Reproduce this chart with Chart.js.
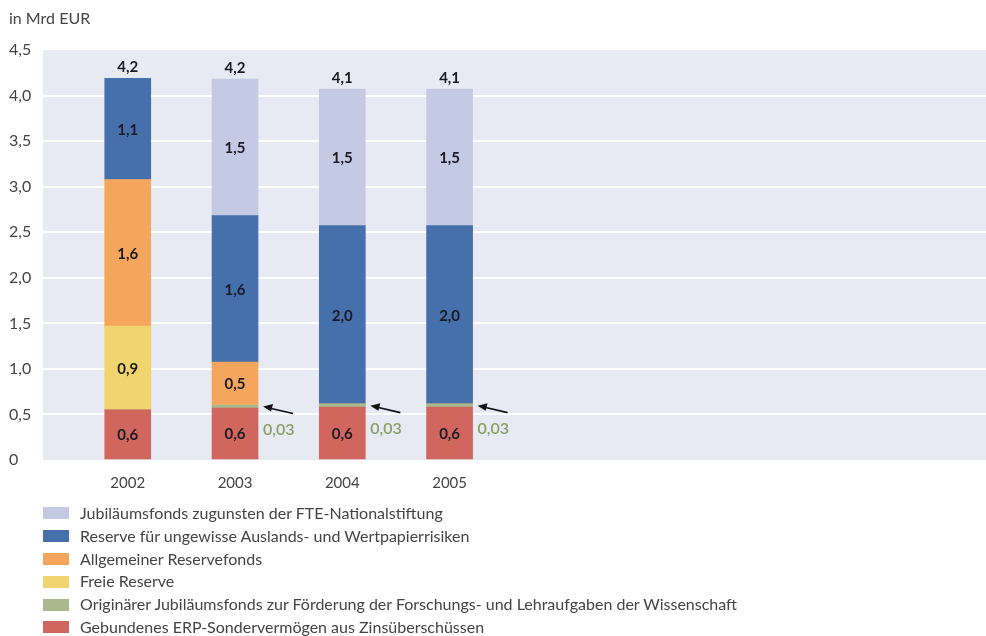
<!DOCTYPE html>
<html>
<head>
  <meta charset="UTF-8">
  <title>Rücklagen in Mrd EUR</title>
  <script src="https://cdn.jsdelivr.net/npm/chart.js"></script>
  <style>
    body { margin: 0; background: #fff; font-family: Lato, "Open Sans", sans-serif; }
    #wrap { position: relative; width: 986px; height: 636px; }
    #chart { position: absolute; left: 0; top: 0; }
    #legend { list-style: none; margin: 0; padding: 0; position: absolute; left: 43px; top: 502px; }
    #legend li { height: 22.8px; line-height: 22.8px; font-size: 16px; color: #444; display: flex; align-items: center; white-space: nowrap; }
    #legend span.box { display: inline-block; width: 26px; height: 12px; margin-right: 11px; }
  </style>
</head>
<body>
<div id="wrap">
  <canvas id="chart" width="986" height="520"></canvas>
  <ul id="legend"></ul>
</div>
<script>
const years = [2002, 2003, 2004, 2005];

// Stapel von unten nach oben
const erpSondervermoegen = [0.55, 0.57, 0.58, 0.58];
const origJubilaeumsfonds = [0, 0.034, 0.034, 0.034];
const freieReserve = [0.92, 0, 0, 0];
const allgReservefonds = [1.61, 0.47, 0, 0];
const reserveRisiken = [1.11, 1.61, 1.96, 1.96];
const jubilaeumsfondsFTE = [0, 1.5, 1.5, 1.5];

const seriesNames = [
  'Gebundenes ERP-Sondervermögen aus Zinsüberschüssen',
  'Originärer Jubiläumsfonds zur Förderung der Forschungs- und Lehraufgaben der Wissenschaft',
  'Freie Reserve',
  'Allgemeiner Reservefonds',
  'Reserve für ungewisse Auslands- und Wertpapierrisiken',
  'Jubiläumsfonds zugunsten der FTE-Nationalstiftung'
];
const seriesColors = ['#d0665e', '#a9b98c', '#f2d46f', '#f5a65c', '#4670ac', '#c5cae4'];
const seriesValues = [erpSondervermoegen, origJubilaeumsfonds, freieReserve, allgReservefonds, reserveRisiken, jubilaeumsfondsFTE];

const fmt = (v, d) => v.toFixed(d).replace('.', ',');

const datasets = seriesNames.map((name, i) => ({
  label: name,
  data: years.map((y, j) => ({ x: y, y: seriesValues[i][j] })),
  backgroundColor: seriesColors[i],
  borderWidth: 0,
  barThickness: 46
}));

const plotBg = {
  id: 'plotBg',
  beforeDraw(chart) {
    const { ctx, chartArea: a } = chart;
    ctx.save();
    ctx.fillStyle = '#e7e9f3';
    ctx.fillRect(a.left, a.top, a.right - a.left, a.bottom - a.top);
    ctx.restore();
  }
};

const barLabels = {
  id: 'barLabels',
  afterDatasetsDraw(chart) {
    const { ctx } = chart;
    const yScale = chart.scales.y;
    ctx.save();
    ctx.textAlign = 'center';
    ctx.textBaseline = 'middle';
    chart.data.datasets.forEach((ds, i) => {
      const meta = chart.getDatasetMeta(i);
      meta.data.forEach((bar, j) => {
        const v = ds.data[j].y;
        if (v >= 0.3) {
          ctx.font = 'bold 15px Lato, sans-serif';
          ctx.fillStyle = '#1b1b24';
          ctx.fillText(fmt(v, 1), bar.x, (bar.y + bar.base) / 2 + 1);
        } else if (v > 0) {
          // kleiner Wert: Pfeil und Beschriftung rechts vom Balken
          const right = bar.x + bar.width / 2;
          const cy = (bar.y + bar.base) / 2;
          const hx = right + 5;
          ctx.strokeStyle = '#111';
          ctx.fillStyle = '#111';
          ctx.lineWidth = 1.6;
          ctx.beginPath();
          ctx.moveTo(right + 35, cy + 7);
          ctx.lineTo(hx + 6, cy + 1.4);
          ctx.stroke();
          ctx.beginPath();
          ctx.moveTo(hx, cy);
          ctx.lineTo(hx + 10, cy - 2.5);
          ctx.lineTo(hx + 8, cy + 5);
          ctx.closePath();
          ctx.fill();
          ctx.font = '600 16px Lato, sans-serif';
          ctx.fillStyle = '#8aa062';
          ctx.textAlign = 'left';
          ctx.fillText(fmt(v, 2), hx, cy + 23);
          ctx.textAlign = 'center';
        }
      });
    });
    // Summen über den Balken
    ctx.font = 'bold 15px Lato, sans-serif';
    ctx.fillStyle = '#1b1b24';
    const xScale = chart.scales.x;
    years.forEach((y, j) => {
      const total = seriesValues.reduce((s, arr) => s + arr[j], 0);
      ctx.fillText(fmt(total, 1), xScale.getPixelForValue(y), yScale.getPixelForValue(total) - 11);
    });
    ctx.restore();
  }
};

const chart = new Chart(document.getElementById('chart'), {
  type: 'bar',
  data: { datasets },
  options: {
    responsive: false,
    animation: false,
    layout: { padding: { left: 9, right: 0, top: 0, bottom: 22 } },
    plugins: {
      legend: { display: false },
      tooltip: { enabled: false },
      title: {
        display: true,
        text: 'in Mrd EUR',
        align: 'start',
        color: '#444',
        font: { family: 'Lato', size: 16, weight: 'normal' },
        padding: { top: 9, bottom: 22 }
      }
    },
    scales: {
      x: {
        type: 'linear',
        stacked: true,
        offset: false,
        min: 2001.21,
        max: 2010,
        afterBuildTicks: (s) => { s.ticks = years.map(v => ({ value: v })); },
        ticks: {
          color: '#444',
          font: { family: 'Lato', size: 15 },
          padding: 6,
          callback: (v) => String(v)
        },
        grid: { display: false },
        border: { display: false }
      },
      y: {
        stacked: true,
        min: 0,
        max: 4.5,
        afterFit: (s) => { s.width = 34; },
        ticks: {
          stepSize: 0.5,
          crossAlign: 'far',
          color: '#444',
          font: { family: 'Lato', size: 16 },
          callback: (v) => v === 0 ? '0' : fmt(v, 1)
        },
        grid: {
          color: (c) => (c.tick && (c.tick.value === 0 || c.tick.value === 4.5)) ? 'rgba(0,0,0,0)' : '#ffffff',
          lineWidth: 2,
          drawTicks: false
        },
        border: { display: false }
      }
    }
  },
  plugins: [plotBg, barLabels]
});

// Legende als Liste, oberster Stapel zuerst
const legendEl = document.getElementById('legend');
chart.data.datasets.slice().reverse().forEach(ds => {
  const li = document.createElement('li');
  const box = document.createElement('span');
  box.className = 'box';
  box.style.background = ds.backgroundColor;
  li.appendChild(box);
  li.appendChild(document.createTextNode(ds.label));
  legendEl.appendChild(li);
});
</script>
</body>
</html>
